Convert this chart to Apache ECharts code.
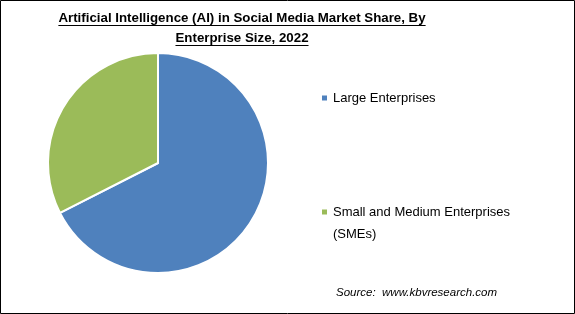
<!DOCTYPE html>
<html><head><meta charset="utf-8">
<script src="https://cdn.jsdelivr.net/npm/echarts@6/dist/echarts.min.js"></script>
<style>html,body{margin:0;padding:0;background:#fff}#c{width:575px;height:314px}</style>
</head><body><div id="c"></div>
<script>
const categories = ['Large Enterprises', 'Small and Medium Enterprises (SMEs)'];
const shares = [67.5, 32.5];
const colors = ['#4F81BD', '#9BBB59'];
const titleLines = ['Artificial Intelligence (AI) in Social Media Market Share, By', 'Enterprise Size, 2022'];
const sourceText = 'Source:  www.kbvresearch.com';

const FONT = '"Liberation Sans", Arial, sans-serif';
const titleSize = 13.3;
const cx = 242;
const ctx = document.createElement('canvas').getContext('2d');
ctx.font = 'bold ' + titleSize + 'px ' + FONT;
const lineYs = [18, 38];
const underline = titleLines.map((t, i) => {
  const w = ctx.measureText(t).width;
  return {type: 'line', shape: {x1: cx - w / 2, y1: lineYs[i] + 7.5, x2: cx + w / 2, y2: lineYs[i] + 7.5}, style: {stroke: '#000', lineWidth: 1}, silent: true};
});

const chart = echarts.init(document.getElementById('c'), null, {renderer: 'canvas'});
chart.setOption({
  animation: false,
  title: [{
    text: titleLines.join('\n'),
    left: cx, top: 8, textAlign: 'center', padding: 0,
    textStyle: {fontFamily: FONT, fontWeight: 'bold', fontSize: titleSize, color: '#000', lineHeight: 20}
  }, {
    text: sourceText,
    left: 336, top: 286, padding: 0,
    textStyle: {fontFamily: FONT, fontStyle: 'italic', fontWeight: 'normal', fontSize: 11.5, color: '#000', lineHeight: 14}
  }],
  legend: [{
    data: [categories[0]],
    orient: 'vertical', left: 320, top: 90, padding: 0,
    itemWidth: 7, itemHeight: 7, icon: 'rect',
    textStyle: {fontFamily: FONT, fontSize: 13, color: '#000', lineHeight: 16}
  }, {
    data: [categories[1]],
    orient: 'vertical', left: 320, top: 179, padding: 0,
    itemWidth: 7, itemHeight: 7, icon: 'rect',
    formatter: () => ' \nSmall and Medium Enterprises\n(SMEs)',
    textStyle: {fontFamily: FONT, fontSize: 13, color: '#000', lineHeight: 22}
  }],
  series: [{
    type: 'pie',
    center: [158, 163], radius: 110,
    startAngle: 90, clockwise: true,
    label: {show: false}, labelLine: {show: false},
    itemStyle: {borderColor: '#fff', borderWidth: 2},
    emphasis: {disabled: true},
    data: categories.map((n, i) => ({name: n, value: shares[i], itemStyle: {color: colors[i]}}))
  }],
  graphic: [{
    type: 'rect', shape: {x: 0.5, y: 0.5, width: 574, height: 313},
    style: {fill: 'none', stroke: '#000', lineWidth: 1}, silent: true
  }].concat(underline)
});
</script></body></html>
